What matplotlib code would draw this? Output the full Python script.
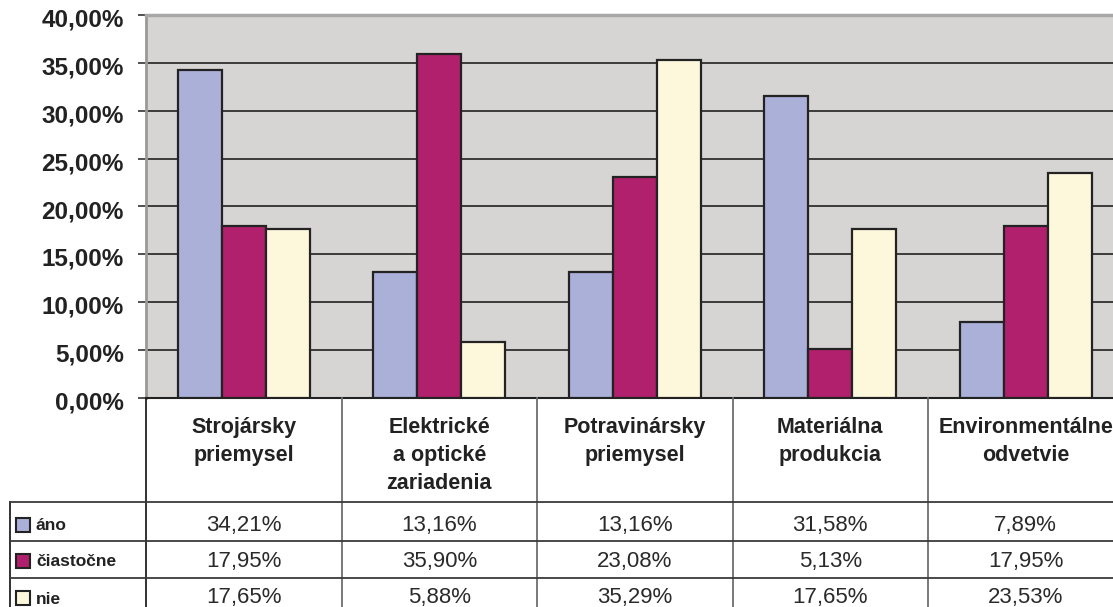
import numpy as np
import matplotlib
matplotlib.use('Agg')
import matplotlib.pyplot as plt
import matplotlib.transforms as mtrans
from matplotlib.patches import Rectangle

# ----------------------------------------------------------
# data
# ----------------------------------------------------------
categories = ['Strojársky\npriemysel', 'Elektrické\na optické\nzariadenia',
              'Potravinársky\npriemysel', 'Materiálna\nprodukcia',
              'Environmentálne\nodvetvie']
series = ['áno', 'čiastočne', 'nie']
ano = [34.21, 13.16, 13.16, 31.58, 7.89]
ciastocne = [17.95, 35.90, 23.08, 5.13, 17.95]
nie = [17.65, 5.88, 35.29, 17.65, 23.53]
values = [ano, ciastocne, nie]
yticks = [0, 5, 10, 15, 20, 25, 30, 35, 40]

colors = ['#abb0d8', '#b1206c', '#fdf8dc']
edge = '#232323'
fam = ['Liberation Sans', 'DejaVu Sans']

# ----------------------------------------------------------
# layout in pixels
# ----------------------------------------------------------
W, H = 1113, 607
X0, X1 = 146, 1123.5      # plot area (right side runs past the edge)
Y0, Y1 = 15, 398
col_w = (X1 - X0) / len(categories)
row_lines = [502, 541, 578]
row_mid = [525, 561, 598]

fig = plt.figure(figsize=(W / 100, H / 100), dpi=100)
ax = fig.add_axes([X0 / W, 1 - Y1 / H, (X1 - X0) / W, (Y1 - Y0) / H])
ax.set_facecolor('#d6d5d3')

x = np.arange(len(categories)) + 0.5
bw = 0.225
for k, (name, vals) in enumerate(zip(series, values)):
	ax.bar(x + (k - 1) * bw, vals, width=bw, color=colors[k],
	       edgecolor=edge, linewidth=1.6, zorder=3)

ax.set_xlim(0, len(categories))
ax.set_ylim(0, 40)
ax.set_yticks(yticks)
ax.set_yticklabels([])
ax.set_xticks([])
ax.tick_params(axis='y', length=6, width=1.2, color='#333333')
ax.yaxis.grid(True, color='#222222', linewidth=1.2, zorder=1)
ax.set_axisbelow(True)

# tick labels drawn by hand, sitting a little below their tick marks
lab_tr = mtrans.offset_copy(ax.get_yaxis_transform(), fig=fig, x=-22, y=-5,
                            units='dots')
for t in yticks:
	ax.text(0, t, '%d,00%%' % t, transform=lab_tr, ha='right', va='center',
	        fontsize=17.5, fontweight='bold', family=fam, color='#222222')

for s in ['top', 'right']:
	ax.spines[s].set_visible(False)
ax.spines['left'].set_color('#9a9898')
ax.spines['left'].set_linewidth(2)
ax.spines['bottom'].set_color('#222222')
ax.spines['bottom'].set_linewidth(1.5)
ax.plot([0, 1], [1, 1], transform=ax.transAxes, color='#aaa8a6',
        linewidth=2.5, clip_on=False, zorder=4)

# ----------------------------------------------------------
# data table below the plot
# ----------------------------------------------------------
tab = fig.add_axes([0, 0, 1, 1], facecolor='none')
tab.set_xlim(0, W)
tab.set_ylim(H, 0)
tab.axis('off')

bounds = [X0 + i * col_w for i in range(len(categories) + 1)]
for i, bx in enumerate(bounds):
	tab.plot([bx, bx], [Y1, H], color='#222222' if i == 0 else '#6e6e6e',
	         linewidth=1.3)
tab.plot([10, 10], [row_lines[0], H], color='#222222', linewidth=1.3)
for ry in row_lines:
	tab.plot([10, W], [ry, ry], color='#3a3a3a', linewidth=1.3)

for i, cat in enumerate(categories):
	cx = X0 + (i + 0.5) * col_w
	tab.text(cx, 417, cat, ha='center', va='top', fontsize=15.5,
	         fontweight='bold', family=fam, color='#222222', linespacing=1.45)
	for k in range(len(series)):
		tab.text(cx, row_mid[k], ('%.2f%%' % values[k][i]).replace('.', ','),
		         ha='center', va='center', fontsize=16, family=fam,
		         color='#2a2a2a')

for k, name in enumerate(series):
	tab.add_patch(Rectangle((16, row_mid[k] - 7), 14, 14, facecolor=colors[k],
	                        edgecolor=edge, linewidth=1.5))
	tab.text(36, row_mid[k] + 1, name, ha='left', va='center', fontsize=12.5,
	         fontweight='bold', family=fam, color='#222222')

plt.savefig('out.png', dpi=100)
plt.close()
